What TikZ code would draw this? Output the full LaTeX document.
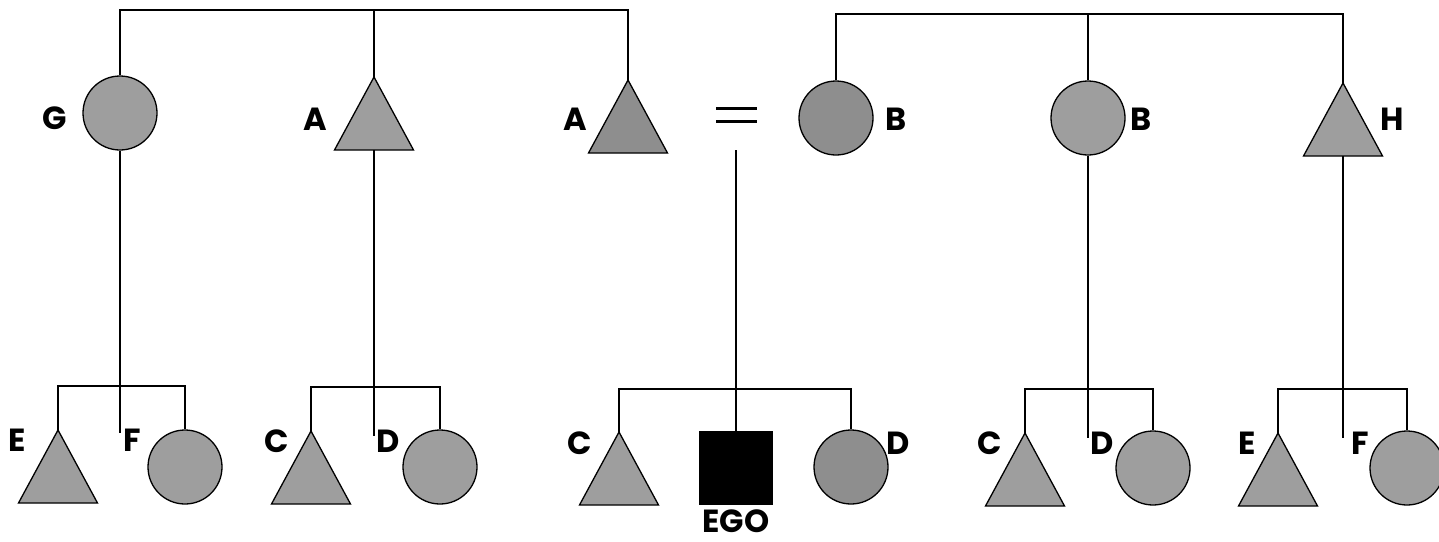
\documentclass[tikz,border=0pt]{standalone}
\usepackage{fontspec}
\setmainfont{Poppins}
\definecolor{shade}{RGB}{158,158,158}
\definecolor{darkshade}{RGB}{142,142,142}
\newcommand\maletri[4]{% name, x, y apex, fill
  \coordinate (#1) at (#2,#3);
  \coordinate (#1b) at (#2,#3+73);
  \filldraw[fill=#4, line join=miter] (#1) -- ++(-39.5,73) -- ++(79,0) -- cycle;}
\begin{document}
\begin{tikzpicture}[x=1pt,y=-1pt, line width=1.3pt,
  person/.style={circle, draw, fill=shade, minimum size=74pt, inner sep=0pt},
  lbl/.style={font=\fontsize{32}{38}\selectfont\bfseries, anchor=base, inner sep=0pt}]
\useasboundingbox[fill=white] (0,0) rectangle (1439,541);

% ---------- top generation, left family ----------
\coordinate (tl) at (120,10);
\coordinate (tr) at (628,10);
\node[person] (G) at (120,113) {};
\maletri{A1}{374}{77}{shade}
\maletri{A2}{628}{80}{darkshade}
\draw (G.north) -- (tl) -- (tr) -- (A2);
\draw (A1) -- (A1 |- tl);

% ---------- top generation, right family ----------
\coordinate (rl) at (836,14);
\coordinate (rr) at (1343,14);
\node[person, fill=darkshade] (B1) at (836,118) {};
\node[person] (B2) at (1088,118) {};
\maletri{H}{1343}{83}{shade}
\draw (B1.north) -- (rl) -- (rr) -- (H);
\draw (B2.north) -- (B2 |- rl);

% marriage sign
\draw[line width=3pt] (716,108) -- (757,108);
\draw[line width=3pt] (716,121) -- (757,121);
\coordinate (m) at (736,150);

% top labels
\node[lbl] (lG)  at (55,129)  {G};
\node[lbl] (lA1) at (315,130) {A};
\node[lbl] (lA2) at (575,130) {A};
\node[lbl] (lB1) at (896,130) {B};
\node[lbl] (lB2) at (1141,130) {B};
\node[lbl] (lH)  at (1392,130) {H};

% ---------- children of G ----------
\coordinate (g1) at (120,386);
\coordinate (g1e) at (120,433);
\maletri{E1}{58}{430}{shade}
\node[person] (F1) at (185,467) {};
\draw (G.south) -- (g1e);
\draw (E1) -- (E1 |- g1) -- (F1.north |- g1) -- (F1.north);

% ---------- children of A (left) ----------
\coordinate (g2) at (374,387);
\coordinate (g2e) at (374,436);
\maletri{C1}{311}{431}{shade}
\node[person] (D1) at (440,467) {};
\draw (A1b) -- (g2e);
\draw (C1) -- (C1 |- g2) -- (D1.north |- g2) -- (D1.north);

% ---------- children of A = B ----------
\coordinate (g3) at (736,389);
\maletri{C2}{619}{432}{shade}
\node[draw, fill=black, minimum size=73pt, inner sep=0pt] (EGO) at (736,468) {};
\node[person, fill=darkshade] (D2) at (851,467) {};
\draw (m) -- (EGO.north);
\draw (C2) -- (C2 |- g3) -- (D2.north |- g3) -- (D2.north);

% ---------- children of B (right) ----------
\coordinate (g4) at (1088,389);
\coordinate (g4e) at (1088,438);
\maletri{C3}{1025}{433}{shade}
\node[person] (D3) at (1153,468) {};
\draw (B2.south) -- (g4e);
\draw (C3) -- (C3 |- g4) -- (D3.north |- g4) -- (D3.north);

% ---------- children of H ----------
\coordinate (g5) at (1343,389);
\coordinate (g5e) at (1343,438);
\maletri{E2}{1278}{433}{shade}
\node[person] (F2) at (1407,468) {};
\draw (Hb) -- (g5e);
\draw (E2) -- (E2 |- g5) -- (F2.north |- g5) -- (F2.north);

% bottom labels
\node[lbl] (lE1) at (17,451)   {E};
\node[lbl] (lF1) at (132,451)  {F};
\node[lbl] (lC1) at (277,452)  {C};
\node[lbl] (lD1) at (388,452)  {D};
\node[lbl] (lC2) at (580,454)  {C};
\node[lbl] (lD2) at (898,454)  {D};
\node[lbl] (lC3) at (990,454)  {C};
\node[lbl] (lD3) at (1102,454) {D};
\node[lbl] (lE2) at (1247,454) {E};
\node[lbl] (lF2) at (1360,454) {F};
\node[lbl] (lEGO) at (736,532) {EGO};
\end{tikzpicture}
\end{document}
